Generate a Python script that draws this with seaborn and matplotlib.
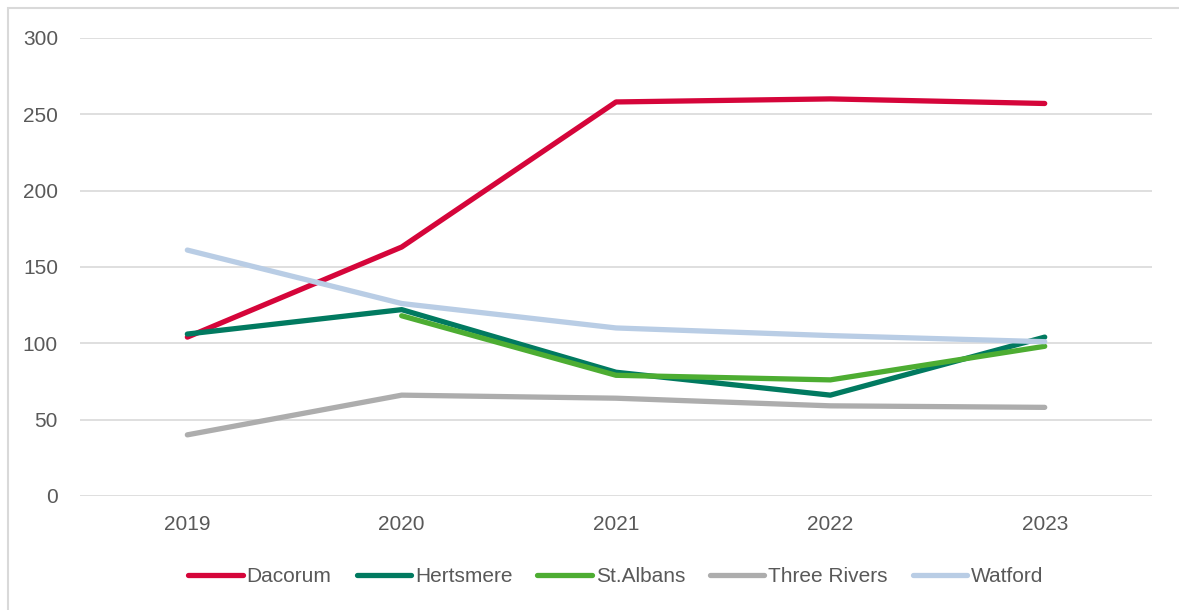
import numpy as np
import pandas as pd
import matplotlib
matplotlib.use("Agg")
import matplotlib.pyplot as plt
from matplotlib.patches import Rectangle
import seaborn as sns

years = ["2019", "2020", "2021", "2022", "2023"]
dacorum = [104, 163, 258, 260, 257]
hertsmere = [106, 122, 81, 66, 104]
st_albans = [np.nan, 118, 79, 76, 98]
three_rivers = [40, 66, 64, 59, 58]
watford = [161, 126, 110, 105, 101]

series = {
    "Dacorum": dacorum,
    "Hertsmere": hertsmere,
    "St.Albans": st_albans,
    "Three Rivers": three_rivers,
    "Watford": watford,
}
colors = ["#D5053A", "#017A60", "#4DAD32", "#ADADAD", "#B9CDE5"]

rows = []
for name, vals in series.items():
    for yr, v in zip(years, vals):
        if not np.isnan(v):
            rows.append({"year": yr, "area": name, "value": v})
df = pd.DataFrame(rows)

sns.set_style("white")
plt.rcParams["font.family"] = ["Liberation Sans", "DejaVu Sans"]

fig = plt.figure(figsize=(11.79, 6.10), dpi=100)
ax = fig.add_axes([0.068, 0.187, 0.909, 0.751])

sns.lineplot(data=df, x="year", y="value", hue="area", hue_order=list(series.keys()),
             palette=colors, linewidth=3.8, ax=ax, sort=False,
             solid_capstyle="round", solid_joinstyle="round")

ax.set_xlim(-0.5, 4.5)
ax.set_ylim(0, 300)
ax.set_yticks(range(0, 301, 50))
ax.yaxis.grid(True, color="#D9D9D9", linewidth=1.2)
ax.set_axisbelow(True)
for s in ax.spines.values():
    s.set_visible(False)
ax.tick_params(axis="both", length=0, labelsize=15, labelcolor="#595959")
ax.tick_params(axis="y", pad=16)
ax.tick_params(axis="x", pad=14)
ax.set_xlabel("")
ax.set_ylabel("")

handles, labels = ax.get_legend_handles_labels()
ax.legend(handles, labels, loc="upper center", bbox_to_anchor=(0.5, -0.115), ncol=5,
          frameon=False, fontsize=15, labelcolor="#595959", handlelength=2.6,
          handletextpad=0.2, columnspacing=1.2)

fig.patches.append(Rectangle((0.007, -0.01), 1.0, 0.997, transform=fig.transFigure,
                             fill=False, edgecolor="#D9D9D9", linewidth=1.5))

fig.savefig("out.png", dpi=100)
